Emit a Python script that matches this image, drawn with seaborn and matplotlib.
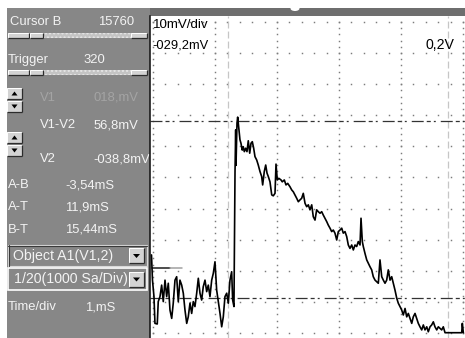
import matplotlib
matplotlib.use("Agg")
import numpy as np
import matplotlib.pyplot as plt
from matplotlib.patches import Rectangle, Polygon, Ellipse
import seaborn as sns

sns.set_style("white")
plt.rcParams["font.family"] = ["Liberation Sans", "DejaVu Sans"]
plt.rcParams["lines.scale_dashes"] = False

W, H, DPI = 465, 338, 100

# ---- captured trace: time (ms) and voltage (mV) ----
time_ms = [
    -0.024, -0.008, 0.016, 0.032, 0.069, 0.085, 0.113, 0.140, 0.166, 0.194,
    0.221, 0.247, 0.274, 0.302, 0.327, 0.355, 0.382, 0.408, 0.435, 0.463,
    0.489, 0.516, 0.544, 0.569, 0.597, 0.624, 0.650, 0.677, 0.705, 0.731,
    0.758, 0.785, 0.811, 0.839, 0.866, 0.892, 0.919, 0.947, 0.973, 1.000,
    1.027, 1.053, 1.081, 1.108, 1.134, 1.161, 1.189, 1.215, 1.242, 1.269,
    1.285, 1.306, 1.323, 1.334, 1.339, 1.355, 1.366, 1.387, 1.403, 1.419,
    1.440, 1.456, 1.473, 1.495, 1.516, 1.537, 1.560, 1.581, 1.602, 1.624,
    1.645, 1.673, 1.698, 1.726, 1.753, 1.769, 1.795, 1.818, 1.839, 1.860,
    1.887, 1.915, 1.940, 1.968, 1.984, 2.005, 2.032, 2.065, 2.085, 2.118,
    2.145, 2.173, 2.210, 2.237, 2.263, 2.290, 2.318, 2.344, 2.371, 2.398,
    2.424, 2.452, 2.479, 2.505, 2.532, 2.560, 2.585, 2.613, 2.640, 2.666,
    2.694, 2.721, 2.747, 2.774, 2.802, 2.827, 2.855, 2.882, 2.908, 2.935,
    2.963, 2.989, 3.016, 3.044, 3.069, 3.097, 3.124, 3.150, 3.177, 3.205,
    3.231, 3.258, 3.285, 3.311, 3.339, 3.355, 3.376, 3.392, 3.419, 3.447,
    3.473, 3.500, 3.527, 3.553, 3.581, 3.608, 3.634, 3.661, 3.689, 3.715,
    3.742, 3.769, 3.795, 3.823, 3.850, 3.876, 3.903, 3.931, 3.956, 3.984,
    4.011, 4.037, 4.065, 4.092, 4.118, 4.145, 4.173, 4.198, 4.226, 4.253,
    4.279, 4.306, 4.334, 4.360, 4.387, 4.415, 4.440, 4.468, 4.495, 4.521,
    4.548, 4.576, 4.602, 4.629, 4.656, 4.682, 4.710, 4.979, 4.989, 5.005,
]
volt_mv = [
    -24.9, -33.0, -38.3, -46.9, -47.1, -39.9, -38.3, -34.6, -39.9, -33.0,
    -38.3, -34.0, -42.6, -45.3, -40.4, -33.0, -31.9, -39.9, -33.0, -34.6,
    -37.2, -42.6, -46.9, -44.8, -40.4, -43.7, -39.9, -41.5, -37.2, -32.4,
    -37.2, -39.4, -35.1, -33.0, -36.7, -34.6, -38.3, -33.0, -30.8, -27.1,
    -36.2, -39.9, -43.7, -48.0, -44.8, -38.3, -37.2, -40.4, -33.0, -30.3,
    -39.4, -41.5, 1.8, 15.3, 3.9, 17.5, 19.4, 15.3, 12.1, 11.0,
    8.8, 9.9, 8.3, 9.4, 8.3, 11.8, 7.8, 11.0, 11.5, 9.4,
    6.7, 5.6, 4.0, 1.9, 0.3, -2.4, 1.9, 4.0, 1.4, 0.3,
    -1.4, -5.6, -5.9, -5.1, 4.3, -0.8, -0.3, -0.8, -1.4, -0.8,
    -2.4, -1.9, -3.0, -4.0, -4.6, -5.6, -6.7, -7.8, -7.2, -6.7,
    -5.1, -8.3, -9.4, -8.8, -10.4, -8.8, -12.6, -13.7, -10.4, -11.0,
    -11.5, -11.0, -12.1, -13.1, -14.2, -15.3, -16.3, -17.4, -16.9, -17.9,
    -20.1, -17.4, -16.9, -16.3, -17.9, -17.4, -19.0, -21.7, -22.8, -21.7,
    -23.3, -21.7, -22.2, -20.6, -21.7, -13.1, -20.6, -22.2, -24.4, -26.5,
    -27.6, -28.7, -29.7, -31.9, -33.0, -33.5, -34.0, -26.5, -31.9, -33.0,
    -34.0, -33.0, -29.7, -33.0, -31.9, -34.0, -36.2, -38.8, -40.4, -41.5,
    -42.6, -44.2, -42.1, -44.8, -43.7, -45.3, -46.9, -44.8, -43.7, -45.3,
    -46.9, -48.0, -49.0, -47.4, -49.0, -48.0, -49.6, -48.0, -47.4, -46.4,
    -48.0, -49.0, -48.0, -48.5, -49.0, -48.0, -49.9, -49.9, -46.9, -49.9,
]

# cursor / trigger settings (ms, mV)
v1_mv = 18.0
v2_mv = -38.8
cursor_a_ms = 1.215
cursor_b_ms = 4.755
trigger_mv = -29.2
trigger_mark_ms = [-0.02, 0.27, 0.46]

# screen range and graticule
t_range = (-0.048, 5.032)
v_range = (-51.6, 51.9)
major_t = [0, 1, 2, 3, 4, 5]
major_v = [-50, -40, -30, -20, -10, 0, 10, 20, 30, 40, 50]

# panel read-outs
panel_rows = [
    ("Cursor B", "15760"),
    ("Trigger", "320"),
    ("V1", "018,mV"),
    ("V1-V2", "56,8mV"),
    ("V2", "-038,8mV"),
    ("A-B", "-3,54mS"),
    ("A-T", "11,9mS"),
    ("B-T", "15,44mS"),
    ("Time/div", "1,mS"),
]
combo_texts = ["Object A1(V1,2)", "1/20(1000 Sa/Div)"]
scope_labels = ["10mV/div", "-029,2mV", "0,2V"]

TXT = "#f3f3f3"
DIM = "#a4a4a4"
PANEL = "#878787"
FS = 9.4

fig = plt.figure(figsize=(W / DPI, H / DPI), dpi=DPI)
fig.patch.set_facecolor("white")

# ---------------- control panel (pixel coordinates) ----------------
ui = fig.add_axes([0, 0, 1, 1], zorder=0)
ui.set_xlim(0, W)
ui.set_ylim(H, 0)
ui.axis("off")

ui.add_patch(Rectangle((7, 8), 146, H - 8, facecolor=PANEL, edgecolor="none"))
ui.add_patch(Rectangle((150, 8), W - 150, 8, facecolor="#6e6e6e", edgecolor="none"))
ui.add_patch(Ellipse((295, 8.5), 9, 5, facecolor="white", edgecolor="none"))


def bevel(x, y, w, h, face="#d3d3d3"):
    ui.add_patch(Rectangle((x, y), w, h, facecolor=face, edgecolor="none"))
    ui.plot([x, x + w], [y, y], color="white", lw=0.7, solid_capstyle="butt")
    ui.plot([x, x], [y, y + h], color="white", lw=0.7, solid_capstyle="butt")
    ui.plot([x, x + w], [y + h, y + h], color="#2c2c2c", lw=0.9, solid_capstyle="butt")
    ui.plot([x + w, x + w], [y, y + h], color="#2c2c2c", lw=0.9, solid_capstyle="butt")


def slider(yc):
    ui.add_patch(Rectangle((43, yc - 2.5), 88, 5, facecolor="#c4c4c4",
                           edgecolor="#e6e6e6", hatch="....", linewidth=0))
    for x0, x1 in [(8, 29), (30, 43), (131, 147)]:
        bevel(x0, yc - 2.5, x1 - x0, 5)


def updown(y):
    bevel(7, y, 15, 11)
    ui.add_patch(Polygon([[11.5, y + 7.5], [17.5, y + 7.5], [14.5, y + 3.5]],
                         closed=True, facecolor="black", edgecolor="none"))
    bevel(7, y + 13, 15, 11)
    ui.add_patch(Polygon([[11.5, y + 16.5], [17.5, y + 16.5], [14.5, y + 20.5]],
                         closed=True, facecolor="black", edgecolor="none"))


def drop_button(x, y):
    bevel(x, y, 15, 15)
    ui.add_patch(Polygon([[x + 4, y + 6], [x + 11, y + 6], [x + 7.5, y + 10]],
                         closed=True, facecolor="black", edgecolor="none"))


slider(35)
slider(72)
updown(88)
updown(132)

row_pos = [(10, 98, 22), (8, 83, 60), (40, 93, 98), (40, 94, 125), (40, 93, 159),
           (8, 65, 185), (8, 65, 207), (8, 65, 230), (8, 85, 307)]
for (lab, val), (xl, xv, yy) in zip(panel_rows, row_pos):
    col = DIM if lab == "V1" else TXT
    ui.text(xl, yy, lab, color=col, fontsize=FS, va="center", ha="left")
    ui.text(xv, yy, val, color=col, fontsize=FS, va="center", ha="left")

# combo boxes
ui.add_patch(Rectangle((8, 245), 139, 21, facecolor=PANEL, edgecolor="#d8d8d8", lw=0.8))
ui.plot([8, 147], [245.5, 245.5], color="#3a3a3a", lw=0.8)
ui.plot([8.5, 8.5], [245, 266], color="#3a3a3a", lw=0.8)
ui.text(13, 256, combo_texts[0], color=TXT, fontsize=FS + 0.8, va="center", ha="left")
drop_button(129, 248)

ui.add_patch(Rectangle((8, 268), 139, 22, facecolor=PANEL, edgecolor="white", lw=1.2))
ui.text(14, 279, combo_texts[1], color=TXT, fontsize=FS + 0.8, va="center", ha="left")
drop_button(129, 271.5)

# ---------------- scope screen ----------------
ax = fig.add_axes([150 / W, 0, 1 - 150 / W, (H - 16) / H], zorder=1)
ax.set_facecolor("white")
ax.set_xlim(*t_range)
ax.set_ylim(*v_range)
for s in ["top", "right", "bottom"]:
    ax.spines[s].set_visible(False)
ax.spines["left"].set_color("#1c1c1c")
ax.spines["left"].set_linewidth(1.2)
ax.set_xticks([])
ax.set_yticks([])

# dotted graticule
gdot = dict(ls="none", marker="s", ms=1.05, mew=0, color="#7c7c7c", zorder=1)
row_t = np.arange(major_t[0], major_t[-1] + 0.01, 0.2)
for v in major_v:
    ax.plot(row_t, np.full_like(row_t, v), **gdot)
col_v = np.arange(major_v[0], major_v[-1] + 0.1, 2.0)
for t in major_t:
    ax.plot(np.full_like(col_v, t), col_v, **gdot)

# time cursors A / B
for tc in (cursor_a_ms, cursor_b_ms):
    ax.axvline(tc, color="#c6c6c6", lw=0.9, dashes=(5, 2.2), zorder=2)

# voltage cursors V1 / V2
for vc in (v1_mv, v2_mv):
    ax.axhline(vc, color="#333333", lw=0.9, dashes=(8.6, 2.2, 2.9, 2.2, 1.4, 3.6), zorder=2)

# trigger level marker
ax.plot(trigger_mark_ms[:2], [trigger_mv] * 2, color="#1c1c1c", lw=1.1, zorder=3)
ax.plot(trigger_mark_ms[1:], [trigger_mv] * 2, color="#a0a0a0", lw=1.1, zorder=3)

# signal trace
sns.lineplot(x=time_ms, y=volt_mv, ax=ax, color="black", linewidth=1.2,
             estimator=None, sort=False, zorder=4)
ax.set_xlabel("")
ax.set_ylabel("")

# screen labels
fig.text(153 / W, 1 - 25 / H, scope_labels[0], fontsize=9.6, color="black", va="center", ha="left")
fig.text(152 / W, 1 - 46 / H, scope_labels[1], fontsize=9.3, color="black", va="center", ha="left")
fig.text(425 / W, 1 - 45 / H, scope_labels[2], fontsize=10.2, color="black", va="center", ha="left")

fig.savefig("out.png", dpi=DPI, facecolor="white")
